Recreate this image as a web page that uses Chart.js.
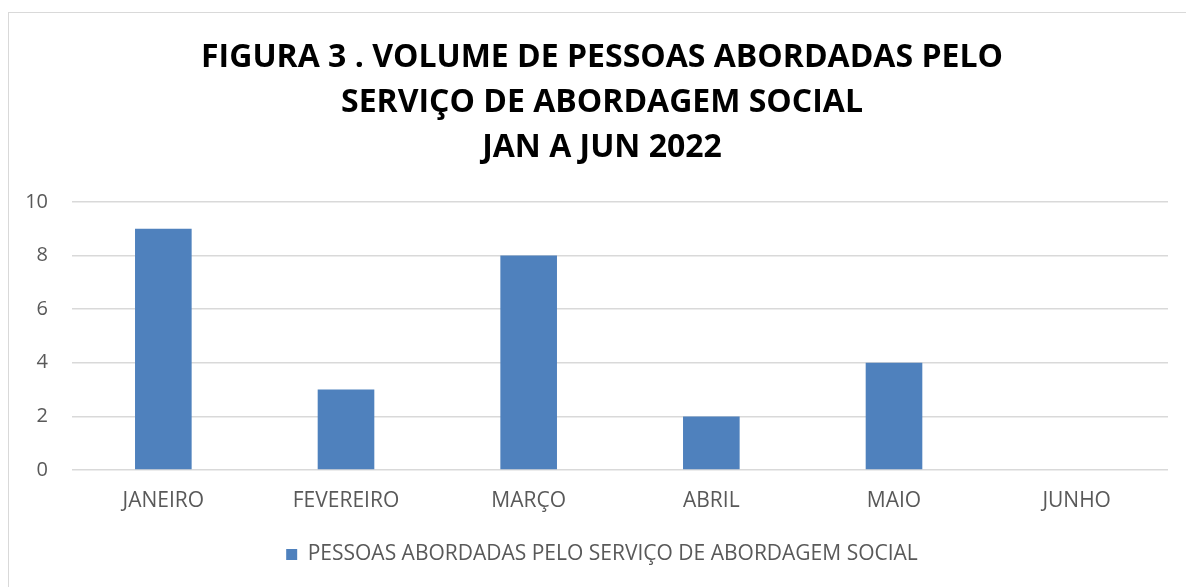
<!DOCTYPE html>
<html>
<head>
<meta charset="utf-8">
<script src="https://cdn.jsdelivr.net/npm/chart.js@4/dist/chart.umd.min.js"></script>
<style>
  html, body { margin: 0; padding: 0; background: #fff; overflow: hidden; }
  #frame {
    position: absolute; left: 8px; top: 12px; width: 1200px; height: 600px;
    border: 1px solid #d9d9d9; box-sizing: border-box;
  }
  #wrap { position: absolute; left: 0; top: 0; width: 1222px; height: 587px; }
</style>
</head>
<body>
<div id="frame"></div>
<div id="wrap"><canvas id="chart"></canvas></div>
<script>
const titleLines = [
  "FIGURA 3 . VOLUME DE PESSOAS ABORDADAS PELO",
  "SERVIÇO DE ABORDAGEM SOCIAL",
  "JAN A JUN 2022",
];
const months = ["JANEIRO", "FEVEREIRO", "MARÇO", "ABRIL", "MAIO", "JUNHO"];
const seriesLabel = "PESSOAS ABORDADAS PELO SERVIÇO DE ABORDAGEM SOCIAL";
const people = [9, 3, 8, 2, 4, 0];
const yTicks = [0, 2, 4, 6, 8, 10];

const textFont = "'Open Sans', 'Noto Sans', sans-serif";

new Chart(document.getElementById("chart"), {
  type: "bar",
  data: {
    labels: months,
    datasets: [
      {
        label: seriesLabel,
        data: people,
        yAxisID: "y",
        backgroundColor: "#4f81bd",
        borderWidth: 0,
        categoryPercentage: 1,
        barPercentage: 0.31,
      },
    ],
  },
  options: {
    responsive: true,
    maintainAspectRatio: false,
    animation: false,
    layout: { padding: { left: 0, right: 18, top: 0, bottom: 12 } },
    scales: {
      x: {
        grid: { display: false },
        border: { display: false },
        ticks: { color: "#595959", font: { family: textFont, size: 21 }, padding: 10 },
        afterFit: (scale) => { scale.height = 60; },
      },
      y: {
        min: 0,
        max: 10,
        afterBuildTicks: (scale) => { scale.ticks = yTicks.map((v) => ({ value: v })); },
        grid: { color: "#d9d9d9", lineWidth: 1.5, drawTicks: false },
        border: { display: false },
        ticks: { color: "#595959", font: { family: textFont, size: 20 }, padding: 24 },
        afterFit: (scale) => { scale.width = 72; },
      },
      // empty spacer on the right so title and legend centre like the original frame
      spacer: {
        type: "linear",
        position: "right",
        grid: { display: false },
        border: { display: false },
        ticks: { display: false },
        afterFit: (scale) => { scale.width = 36; },
      },
    },
    plugins: {
      title: {
        display: true,
        text: titleLines,
        color: "#000",
        font: { family: textFont, size: 32, weight: "bold", lineHeight: 1.406 },
        padding: { top: 35, bottom: 32 },
      },
      legend: {
        position: "bottom",
        labels: {
          color: "#595959",
          font: { family: textFont, size: 21 },
          boxWidth: 11,
          boxHeight: 11,
          padding: 14,
        },
      },
      tooltip: { enabled: false },
    },
  },
});
</script>
</body>
</html>
